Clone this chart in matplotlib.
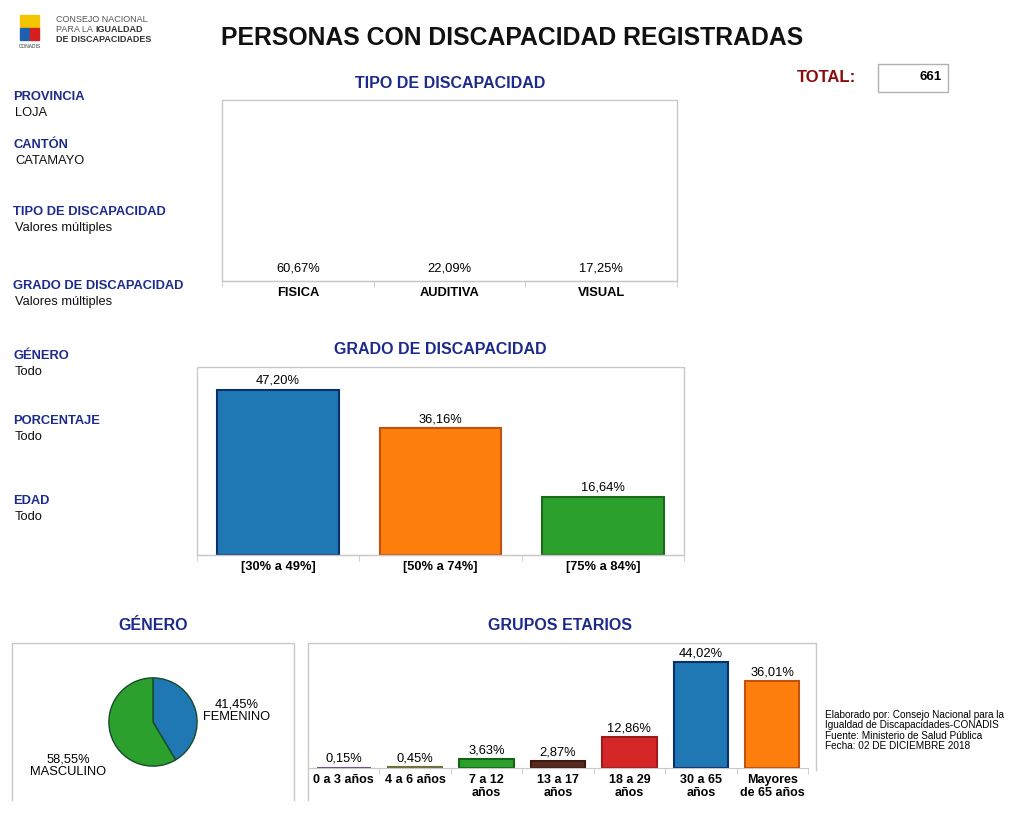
import matplotlib
matplotlib.use("Agg")
import matplotlib.pyplot as plt
from matplotlib.patches import Rectangle

plt.rcParams['font.family'] = ['Liberation Sans', 'DejaVu Sans']

W, H = 1016, 826

# data
tipo_cats = ['FISICA', 'AUDITIVA', 'VISUAL']
tipo_vals = [60.67, 22.09, 17.25]

grado_cats = ['[30% a 49%]', '[50% a 74%]', '[75% a 84%]']
grado_vals = [47.20, 36.16, 16.64]
grado_cols = ['#1f77b4', '#ff7f0e', '#2ca02c']
grado_edges = ['#0b2f6b', '#c4500a', '#1a6a1a']

genero_cats = ['FEMENINO', 'MASCULINO']
genero_vals = [41.45, 58.55]
genero_cols = ['#1f77b4', '#2ca02c']

edad_cats = ['0 a 3 años', '4 a 6 años', '7 a 12\naños', '13 a 17\naños',
             '18 a 29\naños', '30 a 65\naños', 'Mayores\nde 65 años']
edad_vals = [0.15, 0.45, 3.63, 2.87, 12.86, 44.02, 36.01]
edad_cols = ['#9467bd', '#9a9a5a', '#2ca02c', '#5a2a1f', '#d62728', '#1f77b4', '#ff7f0e']
edad_edges = ['#6a4a90', '#6e6e3a', '#146414', '#3a1a10', '#a01a1a', '#0b2f6b', '#c4500a']

filtros = [('PROVINCIA', 'LOJA', 97), ('CANTÓN', 'CATAMAYO', 145),
           ('TIPO DE DISCAPACIDAD', 'Valores múltiples', 212),
           ('GRADO DE DISCAPACIDAD', 'Valores múltiples', 286),
           ('GÉNERO', 'Todo', 356), ('PORCENTAJE', 'Todo', 421), ('EDAD', 'Todo', 501)]
total = 661

NAVY = '#1c2a8c'
GRID = '#c8c8c8'

fig = plt.figure(figsize=(W / 100, H / 100), dpi=100)


def rect(x0, y0, x1, y1):
    return [x0 / W, 1 - y1 / H, (x1 - x0) / W, (y1 - y0) / H]


def ftext(x, y, s, **kw):
    fig.text(x / W, 1 - y / H, s, **kw)


def frame(x0, y0, x1, y1):
    fig.patches.append(Rectangle((x0 / W, 1 - y1 / H), (x1 - x0) / W, (y1 - y0) / H,
                                 transform=fig.transFigure, fill=False,
                                 edgecolor=GRID, lw=1))


def style_bar_axes(ax, n):
    for s in ['top', 'left', 'right']:
        ax.spines[s].set_visible(False)
    ax.spines['bottom'].set_color(GRID)
    ax.set_yticks([])
    ax.set_xlim(-0.5, n - 0.5)
    ax.set_xticks(range(n))
    ax.tick_params(axis='x', which='major', length=0, pad=4)
    ax.set_xticks([i - 0.5 for i in range(n + 1)], minor=True)
    ax.tick_params(axis='x', which='minor', length=4, color=GRID)
    ax.patch.set_alpha(0)


def pct(v):
    return f'{v:.2f}%'.replace('.', ',')


# header
ftext(512, 38, 'PERSONAS CON DISCAPACIDAD REGISTRADAS', fontsize=17.8, fontweight='bold',
      ha='center', va='center', color='#111111')
fig.patches.append(Rectangle((20 / W, 1 - 27 / H), 9 / W, 12 / H, transform=fig.transFigure, color='#f5c400'))
fig.patches.append(Rectangle((30 / W, 1 - 27 / H), 9 / W, 12 / H, transform=fig.transFigure, color='#f5c400'))
fig.patches.append(Rectangle((20 / W, 1 - 40 / H), 9 / W, 12 / H, transform=fig.transFigure, color='#1f5fb0'))
fig.patches.append(Rectangle((30 / W, 1 - 40 / H), 9 / W, 12 / H, transform=fig.transFigure, color='#d62020'))
ftext(56, 19, 'CONSEJO NACIONAL', fontsize=6.5, color='#555555', va='center')
ftext(56, 29, 'PARA LA', fontsize=6.5, color='#555555', va='center')
ftext(95, 29, 'IGUALDAD', fontsize=6.5, color='#333333', va='center', fontweight='bold')
ftext(56, 39, 'DE DISCAPACIDADES', fontsize=6.5, color='#333333', va='center', fontweight='bold')
ftext(30, 46, 'CONADIS', fontsize=3.5, color='#333333', ha='center', va='center')

ftext(797, 78, 'TOTAL:', fontsize=12, fontweight='bold', color='#8b0a0a', va='center')
fig.patches.append(Rectangle((878 / W, 1 - 92 / H), 70 / W, 28 / H, transform=fig.transFigure,
                             fill=False, edgecolor='#b0b0b0', lw=1))
ftext(942, 77, str(total), fontsize=9.5, fontweight='bold', ha='right', va='center')

for lab, val, y in filtros:
    ftext(13, y, lab, fontsize=9.3, fontweight='bold', color=NAVY, va='center')
    ftext(15, y + 16, val, fontsize=9.3, color='#111111', va='center')

ftext(825, 710, 'Elaborado por: Consejo Nacional para la\nIgualdad de Discapacidades-CONADIS\n'
      'Fuente: Ministerio de Salud Pública\nFecha: 02 DE DICIEMBRE 2018',
      fontsize=7.2, va='top', linespacing=1.05)

# tipo de discapacidad
ftext(450, 84, 'TIPO DE DISCAPACIDAD', fontsize=11.5, fontweight='bold', color=NAVY, ha='center', va='center')
frame(222, 100, 677, 281)
ax1 = fig.add_axes(rect(222, 100, 677, 281))
ax1.bar(range(3), tipo_vals, width=0.75, color='none', edgecolor='none')
ax1.set_ylim(0, 1000)
for i, v in enumerate(tipo_vals):
    ax1.annotate(pct(v), (i, 0), xytext=(0, 5), textcoords='offset points',
                 ha='center', va='bottom', fontsize=9.3)
style_bar_axes(ax1, 3)
ax1.set_xticklabels(tipo_cats, fontsize=9.3, fontweight='bold')

# grado de discapacidad
ftext(440, 350, 'GRADO DE DISCAPACIDAD', fontsize=11.5, fontweight='bold', color=NAVY, ha='center', va='center')
frame(197, 367, 684, 555)
ax2 = fig.add_axes(rect(197, 367, 684, 555))
ax2.bar(range(3), grado_vals, width=0.75, color=grado_cols, edgecolor=grado_edges, lw=1.5)
ax2.set_ylim(0, 53.7)
for i, v in enumerate(grado_vals):
    ax2.annotate(pct(v), (i, v), xytext=(0, 2), textcoords='offset points',
                 ha='center', va='bottom', fontsize=9.3)
style_bar_axes(ax2, 3)
ax2.set_xticklabels(grado_cats, fontsize=9.3, fontweight='bold')

# genero
ftext(153, 626, 'GÉNERO', fontsize=11.5, fontweight='bold', color=NAVY, ha='center', va='center')
fig.lines.append(plt.Line2D([12 / W, 12 / W, 294 / W, 294 / W], [1 - 800 / H, 1 - 643 / H, 1 - 643 / H, 1 - 800 / H],
                            transform=fig.transFigure, color=GRID, lw=1))
ax3 = fig.add_axes(rect(108, 677, 198, 767))
ax3.pie(genero_vals, colors=genero_cols, startangle=90, counterclock=False,
        wedgeprops=dict(edgecolor='#174a2a', linewidth=1))
ax3.set_xlim(-1.02, 1.02)
ax3.set_ylim(-1.02, 1.02)
ftext(237, 711, pct(genero_vals[0]) + '\n' + genero_cats[0],
      fontsize=9.3, ha='center', va='center', linespacing=1.1)
ftext(68, 766, pct(genero_vals[1]) + '\n' + genero_cats[1],
      fontsize=9.3, ha='center', va='center', linespacing=1.1)

# grupos etarios
ftext(560, 626, 'GRUPOS ETARIOS', fontsize=11.5, fontweight='bold', color=NAVY, ha='center', va='center')
fig.lines.append(plt.Line2D([308 / W, 308 / W, 816 / W, 816 / W], [1 - 800 / H, 1 - 643 / H, 1 - 643 / H, 1 - 770 / H],
                            transform=fig.transFigure, color=GRID, lw=1))
ax4 = fig.add_axes(rect(308, 643, 808, 768))
ax4.bar(range(7), edad_vals, width=0.76, color=edad_cols, edgecolor=edad_edges, lw=1.5)
ax4.set_ylim(0, 51.9)
for i, v in enumerate(edad_vals):
    ax4.annotate(pct(v), (i, v), xytext=(0, 2), textcoords='offset points',
                 ha='center', va='bottom', fontsize=9.3)
style_bar_axes(ax4, 7)
ax4.set_xticklabels(edad_cats, fontsize=9, fontweight='bold', linespacing=1.15)

fig.savefig('out.png', dpi=100)
